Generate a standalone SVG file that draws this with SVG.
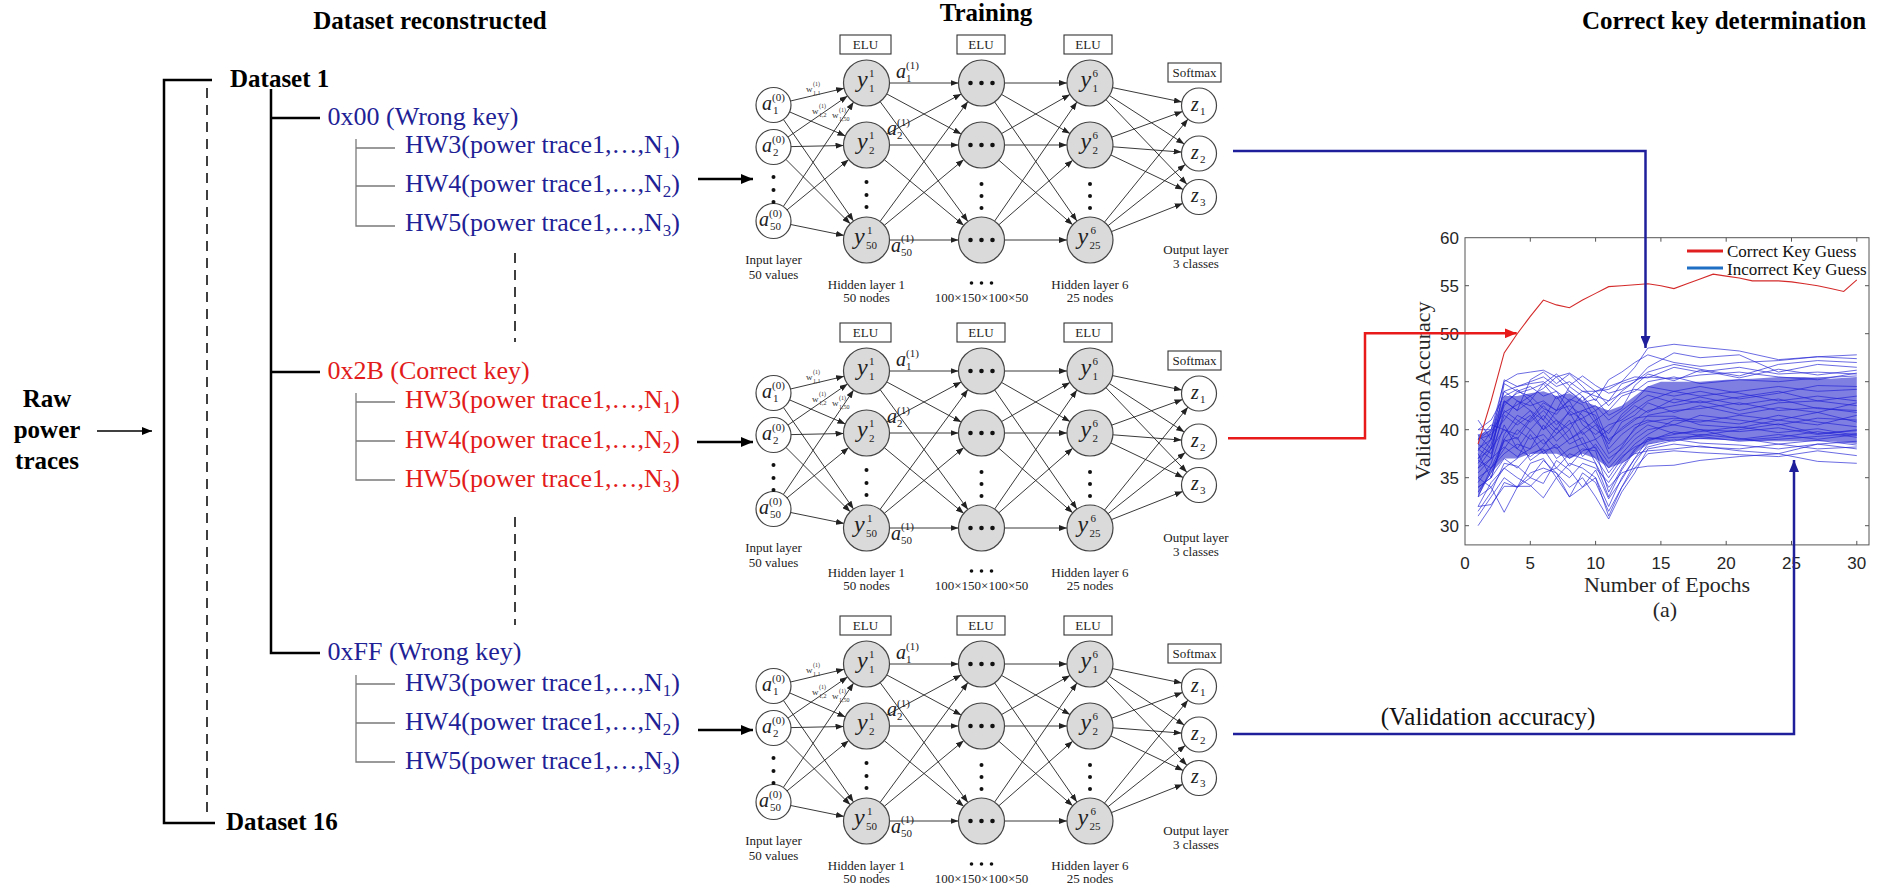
<svg xmlns="http://www.w3.org/2000/svg" xmlns:xlink="http://www.w3.org/1999/xlink" width="1878" height="884" viewBox="0 0 1878 884">
<defs>
<style>
.t{font-family:"Liberation Serif","Times New Roman",serif}
.tb{font-family:"Liberation Serif","Times New Roman",serif;font-weight:bold;font-size:25px;fill:#000}
.bl{font-family:"Liberation Serif","Times New Roman",serif;font-size:26px;fill:#1f1f96}
.rd{font-family:"Liberation Serif","Times New Roman",serif;font-size:26px;fill:#e21b1b}
.sub{font-size:17px}
.lbl{font-family:"Liberation Serif","Times New Roman",serif;font-size:13px;fill:#222;text-anchor:middle}
.it{font-family:"Liberation Serif","Times New Roman",serif;font-style:italic;fill:#222}
.sm{font-family:"Liberation Serif","Times New Roman",serif;font-size:11px;fill:#222}
.ws{font-family:"Liberation Serif","Times New Roman",serif;font-size:6px;fill:#333}
.box{fill:#fff;stroke:#333;stroke-width:1.1}
.hn{fill:#dadada;stroke:#444;stroke-width:1.2}
.inn{fill:#fff;stroke:#444;stroke-width:1.2}
.ln{fill:none;stroke:#222;stroke-width:0.9;marker-end:url(#ah)}
.dot{fill:#111}
.blk{fill:none;stroke:#000;stroke-width:2.5}
.dash{fill:none;stroke:#000;stroke-width:1.5;stroke-dasharray:10 7}
.gry{fill:none;stroke:#7a7a7a;stroke-width:1.3}
.ax{font-family:"Liberation Sans",Arial,sans-serif;font-size:17px;fill:#262626}
.bln{fill:none;stroke:#2424d6;stroke-width:0.8;stroke-opacity:0.85;vector-effect:non-scaling-stroke}
.core{fill:#3030d0;fill-opacity:0.62;stroke:none}
.red{fill:none;stroke:#d42a2a;stroke-width:1.1;vector-effect:non-scaling-stroke}
</style>
<marker id="ah" viewBox="0 0 8 6" refX="8" refY="3" markerWidth="8" markerHeight="6" orient="auto" markerUnits="userSpaceOnUse"><path d="M0,0 L8,3 L0,6 z" fill="#222"/></marker>
<marker id="ahK" viewBox="0 0 12 10" refX="12" refY="5" markerWidth="12" markerHeight="10" orient="auto" markerUnits="userSpaceOnUse"><path d="M0,0 L12,5 L0,10 z" fill="#000"/></marker>
<marker id="ahS" viewBox="0 0 10 8" refX="10" refY="4" markerWidth="10" markerHeight="8" orient="auto" markerUnits="userSpaceOnUse"><path d="M0,0 L10,4 L0,8 z" fill="#000"/></marker>
<marker id="ahB" viewBox="0 0 12 10" refX="12" refY="5" markerWidth="12" markerHeight="10" orient="auto" markerUnits="userSpaceOnUse"><path d="M0,0 L12,5 L0,10 z" fill="#1f1f9c"/></marker>
<marker id="ahR" viewBox="0 0 12 10" refX="12" refY="5" markerWidth="12" markerHeight="10" orient="auto" markerUnits="userSpaceOnUse"><path d="M0,0 L12,5 L0,10 z" fill="#e81a1a"/></marker>
<g id="nn">
 <rect class="box" x="840" y="35" width="51" height="19"/><text class="lbl" x="865.5" y="49">ELU</text>
 <rect class="box" x="957" y="35" width="48" height="19"/><text class="lbl" x="981" y="49">ELU</text>
 <rect class="box" x="1064" y="35" width="48" height="19"/><text class="lbl" x="1088" y="49">ELU</text>
 <rect class="box" x="1168" y="63" width="53" height="19"/><text class="lbl" x="1194.5" y="77" font-size="12">Softmax</text>
 <path class="ln" d="M790.5,101L844.1,88.3"/>
 <path class="ln" d="M789.6,111.9L845.4,135.9"/>
 <path class="ln" d="M783.4,119.4L853.5,221"/>
 <path class="ln" d="M787.9,137.1L847.5,96"/>
 <path class="ln" d="M791,146.6L843.5,145.5"/>
 <path class="ln" d="M785.9,159.4L850.2,223.7"/>
 <path class="ln" d="M783.3,206.5L853.6,102.1"/>
 <path class="ln" d="M787,209.9L848.7,159.6"/>
 <path class="ln" d="M790.7,224.5L844,235.4"/>
 <path class="ln" d="M889.5,83L958.5,83"/>
 <path class="ln" d="M886.7,93.9L961.3,134.1"/>
 <path class="ln" d="M880.1,101.6L967.9,221.4"/>
 <path class="ln" d="M886.7,134.1L961.3,93.9"/>
 <path class="ln" d="M889.5,145L958.5,145"/>
 <path class="ln" d="M884.2,159.6L963.8,225.4"/>
 <path class="ln" d="M880.1,221.4L967.9,101.6"/>
 <path class="ln" d="M884.2,225.4L963.8,159.6"/>
 <path class="ln" d="M889.5,240L958.5,240"/>
 <path class="ln" d="M1004.5,83L1067,83"/>
 <path class="ln" d="M1001.5,94.4L1070,133.6"/>
 <path class="ln" d="M994.6,101.9L1076.9,221.1"/>
 <path class="ln" d="M1001.5,133.6L1070,94.4"/>
 <path class="ln" d="M1004.5,145L1067,145"/>
 <path class="ln" d="M998.8,160.2L1072.7,224.8"/>
 <path class="ln" d="M994.6,221.1L1076.9,101.9"/>
 <path class="ln" d="M998.8,224.8L1072.7,160.2"/>
 <path class="ln" d="M1004.5,240L1067,240"/>
 <path class="ln" d="M1112.5,87.6L1181.9,102"/>
 <path class="ln" d="M1109.3,95.5L1184.3,144"/>
 <path class="ln" d="M1105.9,99.6L1186.9,184.3"/>
 <path class="ln" d="M1111.6,137.2L1182.5,111.5"/>
 <path class="ln" d="M1112.9,146.8L1181.6,152.1"/>
 <path class="ln" d="M1110.7,154.9L1183.2,189.5"/>
 <path class="ln" d="M1104.5,222.1L1188,119.1"/>
 <path class="ln" d="M1108,225.7L1185.3,164.4"/>
 <path class="ln" d="M1111.4,231.6L1182.7,203.4"/>
 <circle class="inn" cx="773.5" cy="105" r="17.5"/>
 <circle class="inn" cx="773.5" cy="147" r="17.5"/>
 <circle class="inn" cx="773.5" cy="221" r="17.5"/>
 <circle class="dot" cx="773.5" cy="177" r="2"/><circle class="dot" cx="773.5" cy="190" r="2"/><circle class="dot" cx="773.5" cy="202" r="2"/>
 <circle class="hn" cx="866.5" cy="83" r="23"/><circle class="hn" cx="866.5" cy="145" r="23"/><circle class="hn" cx="866.5" cy="240" r="23"/>
 <circle class="dot" cx="866.5" cy="182" r="2"/><circle class="dot" cx="866.5" cy="195" r="2"/><circle class="dot" cx="866.5" cy="207" r="2"/>
 <circle class="hn" cx="981.5" cy="83" r="23"/><circle class="hn" cx="981.5" cy="145" r="23"/><circle class="hn" cx="981.5" cy="240" r="23"/>
 <circle class="dot" cx="970.5" cy="83" r="2.3"/><circle class="dot" cx="981.5" cy="83" r="2.3"/><circle class="dot" cx="992.5" cy="83" r="2.3"/>
 <circle class="dot" cx="970.5" cy="145" r="2.3"/><circle class="dot" cx="981.5" cy="145" r="2.3"/><circle class="dot" cx="992.5" cy="145" r="2.3"/>
 <circle class="dot" cx="970.5" cy="240" r="2.3"/><circle class="dot" cx="981.5" cy="240" r="2.3"/><circle class="dot" cx="992.5" cy="240" r="2.3"/>
 <circle class="dot" cx="981.5" cy="184" r="2"/><circle class="dot" cx="981.5" cy="196" r="2"/><circle class="dot" cx="981.5" cy="208" r="2"/>
 <circle class="hn" cx="1090" cy="83" r="23"/><circle class="hn" cx="1090" cy="145" r="23"/><circle class="hn" cx="1090" cy="240" r="23"/>
 <circle class="dot" cx="1090" cy="184" r="2"/><circle class="dot" cx="1090" cy="196" r="2"/><circle class="dot" cx="1090" cy="208" r="2"/>
 <circle class="inn" cx="1199" cy="105.5" r="17.5"/><circle class="inn" cx="1199" cy="153.5" r="17.5"/><circle class="inn" cx="1199" cy="197" r="17.5"/>
 <text class="it" x="762" y="110" font-size="20">a</text><text class="sm" x="772" y="101">(0)</text><text class="sm" x="773" y="114">1</text>
 <text class="it" x="762" y="152" font-size="20">a</text><text class="sm" x="772" y="143">(0)</text><text class="sm" x="773" y="156">2</text>
 <text class="it" x="759" y="226" font-size="20">a</text><text class="sm" x="769" y="217">(0)</text><text class="sm" x="770" y="230">50</text>
 <text class="it" x="857" y="87" font-size="24">y</text><text class="sm" x="869" y="77">1</text><text class="sm" x="869" y="92">1</text>
 <text class="it" x="857" y="149" font-size="24">y</text><text class="sm" x="869" y="139">1</text><text class="sm" x="869" y="154">2</text>
 <text class="it" x="854" y="244" font-size="24">y</text><text class="sm" x="867" y="234">1</text><text class="sm" x="866" y="249">50</text>
 <text class="it" x="1080.5" y="87" font-size="24">y</text><text class="sm" x="1092.5" y="77">6</text><text class="sm" x="1092.5" y="92">1</text>
 <text class="it" x="1080.5" y="149" font-size="24">y</text><text class="sm" x="1092.5" y="139">6</text><text class="sm" x="1092.5" y="154">2</text>
 <text class="it" x="1077.5" y="244" font-size="24">y</text><text class="sm" x="1090.5" y="234">6</text><text class="sm" x="1089.5" y="249">25</text>
 <text class="it" x="1191" y="110.5" font-size="20">z</text><text class="sm" x="1200" y="114.5">1</text>
 <text class="it" x="1191" y="158.5" font-size="20">z</text><text class="sm" x="1200" y="162.5">2</text>
 <text class="it" x="1191" y="202" font-size="20">z</text><text class="sm" x="1200" y="206">3</text>
 <text class="it" x="896" y="78" font-size="20">a</text><text class="sm" x="906" y="69">(1)</text><text class="sm" x="906" y="82">1</text>
 <text class="it" x="887" y="135" font-size="20">a</text><text class="sm" x="897" y="126">(1)</text><text class="sm" x="897" y="139">2</text>
 <text class="it" x="891" y="252" font-size="20">a</text><text class="sm" x="901" y="242">(1)</text><text class="sm" x="901" y="256">50</text>
 <text class="t" x="806" y="92" font-size="9" fill="#333">w</text><text class="ws" x="813" y="86">(1)</text><text class="ws" x="813" y="95">1,1</text>
 <text class="t" x="812" y="114" font-size="9" fill="#333">w</text><text class="ws" x="819" y="108">(1)</text><text class="ws" x="819" y="117">1,2</text>
 <text class="t" x="832" y="118" font-size="9" fill="#333">w</text><text class="ws" x="839" y="112">(1)</text><text class="ws" x="839" y="121">1,50</text>
 <text class="lbl" x="773.5" y="264">Input layer</text><text class="lbl" x="773.5" y="279">50 values</text>
 <text class="lbl" x="866.5" y="289">Hidden layer 1</text><text class="lbl" x="866.5" y="302">50 nodes</text>
 <circle class="dot" cx="971.5" cy="283" r="1.8"/><circle class="dot" cx="981.5" cy="283" r="1.8"/><circle class="dot" cx="991.5" cy="283" r="1.8"/>
 <text class="lbl" x="981.5" y="302" font-size="11">100×150×100×50</text>
 <text class="lbl" x="1090" y="289">Hidden layer 6</text><text class="lbl" x="1090" y="302">25 nodes</text>
 <text class="lbl" x="1196" y="254">Output layer</text><text class="lbl" x="1196" y="268">3 classes</text>
</g>
</defs>
<rect x="0" y="0" width="1878" height="884" fill="#fff"/>

<g id="titles">
 <text class="tb" x="430" y="29" text-anchor="middle">Dataset reconstructed</text>
 <text class="tb" x="986" y="21" text-anchor="middle">Training</text>
 <text class="tb" x="1724" y="29" text-anchor="middle">Correct key determination</text>
</g>

<g id="raw-power-traces">
 <text class="tb" x="47" y="407" text-anchor="middle">Raw</text>
 <text class="tb" x="47" y="438" text-anchor="middle">power</text>
 <text class="tb" x="47" y="469" text-anchor="middle">traces</text>
</g>

<g id="dataset-1"><text class="tb" x="230" y="87">Dataset 1</text></g>
<g id="dataset-16"><text class="tb" x="226" y="830">Dataset 16</text></g>

<g id="key-0x00">
 <text class="bl" x="327.5" y="125">0x00 (Wrong key)</text>
 <text class="bl" x="405" y="153">HW3(power trace1,…,N<tspan class="sub" dy="5">1</tspan><tspan dy="-5">)</tspan></text>
 <text class="bl" x="405" y="192">HW4(power trace1,…,N<tspan class="sub" dy="5">2</tspan><tspan dy="-5">)</tspan></text>
 <text class="bl" x="405" y="231">HW5(power trace1,…,N<tspan class="sub" dy="5">3</tspan><tspan dy="-5">)</tspan></text>
</g>
<g id="key-0x2B">
 <text class="rd" x="327.5" y="379">0x2B (Correct key)</text>
 <text class="rd" x="405" y="408">HW3(power trace1,…,N<tspan class="sub" dy="5">1</tspan><tspan dy="-5">)</tspan></text>
 <text class="rd" x="405" y="448">HW4(power trace1,…,N<tspan class="sub" dy="5">2</tspan><tspan dy="-5">)</tspan></text>
 <text class="rd" x="405" y="487">HW5(power trace1,…,N<tspan class="sub" dy="5">3</tspan><tspan dy="-5">)</tspan></text>
</g>
<g id="key-0xFF">
 <text class="bl" x="327.5" y="660">0xFF (Wrong key)</text>
 <text class="bl" x="405" y="691">HW3(power trace1,…,N<tspan class="sub" dy="5">1</tspan><tspan dy="-5">)</tspan></text>
 <text class="bl" x="405" y="730">HW4(power trace1,…,N<tspan class="sub" dy="5">2</tspan><tspan dy="-5">)</tspan></text>
 <text class="bl" x="405" y="769">HW5(power trace1,…,N<tspan class="sub" dy="5">3</tspan><tspan dy="-5">)</tspan></text>
</g>

<g id="net1"><use xlink:href="#nn" href="#nn"/></g>
<g id="net2"><use xlink:href="#nn" href="#nn" transform="translate(0,288)"/></g>
<g id="net3"><use xlink:href="#nn" href="#nn" transform="translate(0,581)"/></g>

<g id="plot">
 <g transform="translate(1465,813.7) scale(13.06,-9.6)">
  <polygon class="core" points="1,39.5 2,40 3,43.5 4,43.5 5,43.8 6,44 7,43.5 8,43.8 9,43 10,42.5 11,42 12,42.5 13,43.5 14,44.5 15,45 16,45 18,45 20,45.2 22,45.3 24,45.5 26,45.5 28,45.3 30,45.5 30,38.5 28,38.8 26,38.8 24,38.8 22,38.8 20,39 18,39 16,39 15,38.8 14,38.5 13,37.5 12,36.5 11,36 10,37 9,37.5 8,37 7,37.5 6,37.5 5,37.5 4,37 3,37 2,35.5 1,33"/>
  <polyline class="bln" points="1,38 2,39 3,44 4,44.5 5,45 6,45.5 7,44.5 8,45 9,44 10,44 11,44.5 12,45 13,46.5 14,48.5 16,48.9 18,48.6 21,48.2 24,47.3 27,47.6 30,47.8"/>
  <polyline class="bln" points="1,37 2,38 3,43 4,42 5,45.2 6,46 7,44.8 8,45.8 9,44.5 10,43 11,45.2 12,46 13,47 14,47.8 16,47 18,46.6 21,47 24,47.2 27,47.6 30,47.4"/>
  <polyline class="bln" points="1,36 2,37 3,44.8 4,44 5,43.5 6,44.3 7,45.5 8,44 9,43 10,44 11,42.5 12,44 13,45 14,46.5 16,48 18,47.5 21,47.8 24,46 27,46.8 30,46.5"/>
  <polyline class="bln" points="1,34 2,35 3,37 4,36 5,37.5 6,38 7,36 8,37.5 9,37 10,36.5 11,34 12,35.5 13,36 14,36.2 16,36.3 18,36.8 21,37.2 24,37.5 27,36.7 30,36.5"/>
  <polyline class="bln" points="1,31 2,33 3,35 4,34 5,36.5 6,37 7,35 8,36.5 9,36 10,35 11,31 12,34 13,36 14,37.5 16,37.8 18,37.6 21,37.4 24,37.2 27,37.8 30,37.3"/>
  <polyline class="bln" points="1,30 2,32 3,34.5 4,34 5,35.5 6,36 7,35.5 8,34 9,35 10,33 11,30.7 12,33.5 13,35.5 14,38 16,38.5 18,38.2 21,38 24,38.5 27,38 30,38.2"/>
  <polyline class="bln" points="1,33 2,34 3,31.4 4,34 5,35 6,36.8 7,35.5 8,33 9,34 10,35 11,32 12,35 13,37 14,39 16,39.5 18,40 21,39 24,39.5 27,39 30,39.5"/>
  <polyline class="bln" points="1,35 2,34 3,36 4,35 5,34.2 6,32.9 7,35 8,33 9,35.5 10,34.5 11,31.5 12,34 13,36.5 14,38.5 16,39 18,38.6 21,38.4 24,38 27,38.5 30,38"/>
  <polyline class="bln" points="1,32 2,32.2 3,34.1 4,34.1 5,34.1 6,35.5 7,36 8,35 9,36.5 10,36 11,34.5 12,36.5 13,37.5 14,37.8 16,38 18,38.3 21,37.8 24,37.5 27,38.5 30,38.8"/>
  <polyline class="bln" points="1,39 2,40 3,45 4,45.8 5,46 6,46.2 7,45.5 8,45.9 9,45 10,44 11,44.2 12,45 13,45.5 14,45.4 16,46.5 18,46 21,46.5 24,45.8 27,46 30,45.8"/>
  <polyline class="bln" points="1,38 2,37 3,42 4,41 5,40 6,41.5 7,40 8,42 9,41 10,40 11,39 12,40 13,41 14,42 16,42.5 18,43 21,42 24,42.8 27,43 30,42.5"/>
  <polyline class="bln" points="1,36 2,38 3,40 4,39 5,41 6,42.5 7,41 8,40 9,42 10,41.5 11,38 12,39.5 13,40.5 14,41 16,40.5 18,41.5 21,41 24,40.5 27,41.2 30,41"/>
  <polyline class="bln" points="1,39 2,39.5 3,41 4,43 5,42 6,40 7,42 8,43 9,40.5 10,39.5 11,40.5 12,41 13,42 14,43 16,44 18,43.5 21,44 24,44.5 27,44 30,44.2"/>
  <polyline class="bln" points="1,35 2,36 3,38 4,40 5,39 6,39.5 7,38 8,39 9,39.8 10,38 11,36 12,37.5 13,39 14,40 16,40.5 18,40 21,39.8 24,40.2 27,39.5 30,40"/>
  <polyline class="bln" points="1,37 2,39 3,43 4,42 5,43 6,41 7,43.5 8,41.5 9,42 10,42.5 11,41 12,42 13,43 14,44.5 16,44 18,44.5 21,43.8 24,43 27,43.5 30,43"/>
  <polyline class="bln" points="1,34 2,35 3,39 4,38 5,40 6,38.5 7,39.5 8,41 9,38.5 10,37 11,35 12,37 13,38.5 14,39.5 16,41 18,40.8 21,41.5 24,41 27,40.5 30,41.5"/>
  <polyline class="bln" points="1,40 2,40 3,44 4,43 5,42.5 6,43 7,42 8,44.5 9,43.5 10,41 11,42 12,43.5 13,44 14,45 16,45.5 18,44.8 21,45.2 24,45 27,45.4 30,45.6"/>
  <polyline class="bln" points="1,38.5 2,37.5 3,41.5 4,40.5 5,41.5 6,40 7,41 8,39 9,40 10,41 11,37.5 12,38.5 13,40 14,41.5 16,42 18,42.2 21,42.8 24,42 27,42.3 30,41.8"/>
  <polyline class="bln" points="1,33 2,36 3,37.5 4,38.5 5,38 6,39 7,37 8,38 9,38.5 10,39 11,37 12,38 13,39.5 14,40.5 16,39.6 18,39.8 21,40.3 24,39.7 27,40.1 30,39.4"/>
  <polyline class="bln" points="1,36.5 2,38.5 3,42.5 4,44 5,44.5 6,43.5 7,44 8,42 9,43.5 10,42 11,43 12,43.8 13,44.2 14,44 16,43.5 18,44 21,43.2 24,43.8 27,44.6 30,44.5"/>
  <polyline class="bln" points="1,37.5 2,35 3,39.5 4,41.5 5,40.8 6,42 7,40.5 8,41.8 9,39.5 10,40.5 11,38.5 12,40.8 13,41.5 14,42.8 16,41.8 18,42.5 21,41.6 24,42.3 27,41.8 30,42.8"/>
  <polyline class="bln" points="1,32 2,34.5 3,36 4,37 5,39.5 6,37.5 7,38.5 8,37 9,38 10,37.8 11,33.5 12,36 13,38 14,39 16,39.2 18,39.3 21,38.8 24,39 27,39.3 30,39.6"/>
  <polyline class="bln" points="1,41 2,39 3,45.2 4,44.5 5,44.8 6,45 7,44 8,43 9,44 10,43.5 11,43 12,44.8 13,45.2 14,45.5 16,45.3 18,45.7 21,46 24,45.5 27,45.2 30,45.9"/>
  <polyline class="bln" points="1,39 2,40.5 3,40 4,39.5 5,41.2 6,42.8 7,42 8,42.5 9,41.5 10,39 11,40 12,41.3 13,42.5 14,41.8 16,43.2 18,42.8 21,43.4 24,44 27,43 30,43.5"/>
  <polyline class="bln" points="1,35.5 2,37 3,38.2 4,37.2 5,38 6,40.5 7,38.8 8,40 9,37.2 10,38.5 11,36.5 12,38.2 13,40.2 14,40.8 16,41.2 18,41 21,40.6 24,41.5 27,40.8 30,40.3"/>
  <polyline class="bln" points="1,40 2,41 3,43.5 4,44.2 5,43 6,44.8 7,43.2 8,44 9,42.8 10,43.2 11,41.5 12,42.2 13,44.6 14,45.8 16,45.1 18,46.2 21,45.4 24,46.3 27,45.7 30,46.2"/>
  <polyline class="bln" points="1,34.5 2,36.5 3,40.5 4,38 5,37.2 6,38.2 7,40.2 8,38.5 9,39.2 10,36.5 11,33 12,35.8 13,37.8 14,39.2 16,38.8 18,39.5 21,39.1 24,38.5 27,38.9 30,38.4"/>
  <polyline class="bln" points="1,37.8 2,39.8 3,41.8 4,42.6 5,43.5 6,42.2 7,41.6 8,43.2 9,42.6 10,40.6 11,39.6 12,41.6 13,42.8 14,43.6 16,42.8 18,43.4 21,42.6 24,43.2 27,42.2 30,42"/>
  <polyline class="bln" points="1,31.5 2,33.5 3,36.5 4,36.2 5,35 6,34.4 7,36.8 8,35.8 9,34 10,35.8 11,32.8 12,34.8 13,37 14,38.2 16,38.9 18,39.1 21,38.9 24,39.2 27,39.8 30,39.2"/>
  <polyline class="bln" points="1,39.5 2,38 3,42.8 4,43.8 5,44.2 6,44.8 7,45.8 8,44.6 9,45.6 10,44.6 11,43.8 12,44.2 13,45 14,46 16,46.8 18,46.3 21,45.6 24,46.8 27,47.2 30,47"/>
  <polyline class="bln" points="1,36.8 2,36 3,39 4,40.8 5,42 6,41 7,39.6 8,40.6 9,41.2 10,42 11,38.8 12,40.2 13,41.2 14,41.4 16,41.4 18,40.5 21,40.2 24,41 27,41.8 30,40.8"/>
  <polyline class="bln" points="1,33.5 2,35.5 3,38.8 4,39.2 5,36.8 6,37.8 7,38.2 8,36.2 9,37.8 10,38.2 11,35.5 12,37.2 13,38.2 14,38.8 16,39.8 18,39.4 21,40 24,40.6 27,39.6 30,39.9"/>
  <polyline class="red" points="1,38.5 2,43 3,48 4,50 5,51.8 6,53.5 7,53 8,52.7 9,53.5 10,54.2 11,54.9 12,55 13,55.1 14,55.2 15,55 16,54.7 17,55.2 18,55.7 19,56.2 20,56 21,55.8 22,55.5 23,55.5 24,55.5 25,55.4 26,55.2 27,55 28,54.7 29,54.4 30,55.6"/>
 </g>
 <rect x="1465" y="237.7" width="404" height="307.2" fill="none" stroke="#555" stroke-width="1"/>
 <path d="M1530.3,544.9v-4M1595.6,544.9v-4M1660.9,544.9v-4M1726.2,544.9v-4M1791.5,544.9v-4M1856.8,544.9v-4M1530.3,237.7v4M1595.6,237.7v4M1660.9,237.7v4M1726.2,237.7v4M1791.5,237.7v4M1856.8,237.7v4M1465,285.7h4M1465,333.7h4M1465,381.7h4M1465,429.7h4M1465,477.7h4M1465,525.7h4M1869,285.7h-4M1869,333.7h-4M1869,381.7h-4M1869,429.7h-4M1869,477.7h-4M1869,525.7h-4" stroke="#555" stroke-width="1" fill="none"/>
 <g class="ax" text-anchor="end">
  <text x="1459" y="243.7">60</text><text x="1459" y="291.7">55</text><text x="1459" y="339.7">50</text><text x="1459" y="387.7">45</text><text x="1459" y="435.7">40</text><text x="1459" y="483.7">35</text><text x="1459" y="531.7">30</text>
 </g>
 <g class="ax" text-anchor="middle">
  <text x="1465" y="569">0</text><text x="1530.3" y="569">5</text><text x="1595.6" y="569">10</text><text x="1660.9" y="569">15</text><text x="1726.2" y="569">20</text><text x="1791.5" y="569">25</text><text x="1856.8" y="569">30</text>
 </g>
 <text class="t" x="1667" y="592" font-size="22" text-anchor="middle" fill="#262626">Number of Epochs</text>
 <text class="t" x="1665" y="617" font-size="22" text-anchor="middle" fill="#262626">(a)</text>
 <text class="t" font-size="22" text-anchor="middle" fill="#262626" transform="translate(1430,391) rotate(-90)">Validation Accuracy</text>
 <line x1="1687" y1="251" x2="1723" y2="251" stroke="#e02020" stroke-width="3"/>
 <line x1="1687" y1="268" x2="1723" y2="268" stroke="#1f6fc4" stroke-width="3"/>
 <text class="t" x="1727" y="256.5" font-size="17" fill="#111">Correct Key Guess</text>
 <text class="t" x="1727" y="275" font-size="17" fill="#111">Incorrect Key Guess</text>
</g>

<g id="connectors">
 <path class="blk" d="M212,80 H164 V823 H215"/>
 <path class="dash" d="M207,88 V812"/>
 <path class="blk" d="M271,89 V653 H320"/>
 <path class="blk" d="M271,118 H320"/>
 <path class="blk" d="M271,372 H320"/>
 <path class="dash" d="M515,253 V342"/>
 <path class="dash" d="M515,517 V625"/>
 <path class="gry" d="M395,148 H356 V226 H395 M356,186 H395 M356,139 V148"/>
 <path class="gry" d="M395,402 H356 V480 H395 M356,441 H395 M356,393 V402"/>
 <path class="gry" d="M395,684 H356 V762 H395 M356,723 H395 M356,675 V684"/>
 <path d="M97,431 H152" stroke="#000" stroke-width="1.5" fill="none" marker-end="url(#ahS)"/>
 <path d="M698,179 H753" stroke="#000" stroke-width="2.5" fill="none" marker-end="url(#ahK)"/>
 <path d="M697,442 H753" stroke="#000" stroke-width="2.5" fill="none" marker-end="url(#ahK)"/>
 <path d="M698,730 H753" stroke="#000" stroke-width="2.5" fill="none" marker-end="url(#ahK)"/>
 <path d="M1233,151 H1645.5 V348" stroke="#1f1f9c" stroke-width="2.5" fill="none" marker-end="url(#ahB)"/>
 <path d="M1228,438.3 H1365 V333.3 H1516.7" stroke="#e81a1a" stroke-width="2.5" fill="none" marker-end="url(#ahR)"/>
 <path d="M1233,734 H1794 V460" stroke="#1f1f9c" stroke-width="2.5" fill="none" marker-end="url(#ahB)"/>
 <text class="t" x="1488" y="725" font-size="25" text-anchor="middle" fill="#111">(Validation accuracy)</text>
</g>
</svg>
